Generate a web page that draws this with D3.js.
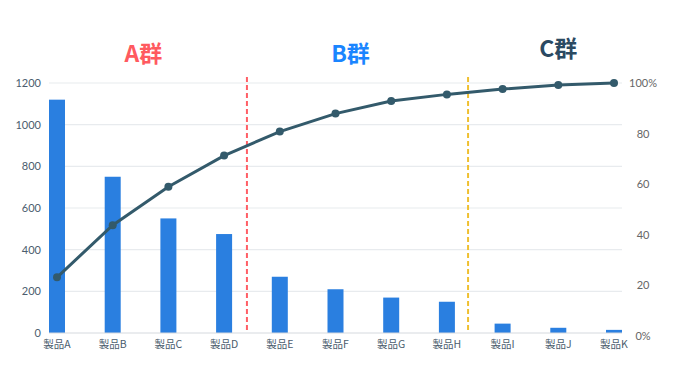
<!DOCTYPE html>
<html><head><meta charset="utf-8">
<script src="https://cdn.jsdelivr.net/npm/d3@7"></script>
<style>body{margin:0;background:#fff}svg{display:block}</style>
</head><body>
<svg id="c" width="680" height="390"></svg>
<script>
const categories = ["製品A","製品B","製品C","製品D","製品E","製品F","製品G","製品H","製品I","製品J","製品K"];
const sales = [1120, 750, 550, 475, 270, 210, 170, 150, 45, 25, 15];
const cumulative = [23.2, 43.8, 59.0, 71.3, 80.8, 87.9, 92.9, 95.5, 97.6, 99.2, 100];
const leftTicks = [0, 200, 400, 600, 800, 1000, 1200];
const rightTicks = [0, 20, 40, 60, 80, 100];
const groups = ["A群", "B群", "C群"];
const groupPos = [1.55, 5.27, 9.0];      // in category-index units
const dividers = [3.41, 7.38];           // in category-index units

const svg = d3.select("#c");
const L = 49, R = 622, bw = 16;
const x = d3.scalePoint().domain(categories).range([L + bw/2, R - bw/2]);
const step = x.step();
const xi = i => x(categories[0]) + i * step;
const y = d3.scaleLinear().domain([0, 1200]).range([333, 83]);
const y2 = d3.scaleLinear().domain([0, 100]).range([336, 83]);

// gridlines
svg.append("g").selectAll("line").data(leftTicks.filter(d => d > 0)).join("line")
  .attr("x1", L).attr("x2", R).attr("y1", d => y(d)).attr("y2", d => y(d))
  .attr("stroke", "#e8ebee").attr("stroke-width", 1.2);

// left axis
const la = svg.append("g").attr("transform", `translate(${L},0)`)
  .call(d3.axisLeft(y).tickValues(leftTicks).tickSize(0).tickPadding(8).tickFormat(d3.format("d")));
la.select(".domain").remove();
la.selectAll("text").attr("font-family", "Lato, sans-serif").attr("font-size", 11).attr("fill", "#4b5d6e");

// right axis
const ra = svg.append("g").attr("transform", `translate(643,0)`)
  .call(d3.axisRight(y2).tickValues(rightTicks).tickSize(0).tickPadding(0)
    .tickFormat(d => (d === 0 || d === 100) ? d + "%" : d));
ra.select(".domain").remove();
ra.selectAll("text").attr("text-anchor", "middle").attr("font-family", "Lato, sans-serif")
  .attr("font-size", 11).attr("fill", "#666");

// bars
svg.append("g").selectAll("rect").data(sales).join("rect")
  .attr("x", (d, i) => x(categories[i]) - bw/2).attr("width", bw)
  .attr("y", d => y(d)).attr("height", d => y(0) - y(d))
  .attr("fill", "#2a7fe0");

// baseline
svg.append("line").attr("x1", L).attr("x2", R).attr("y1", y(0)).attr("y2", y(0))
  .attr("stroke", "#d5d9de").attr("stroke-width", 1);

// category labels
svg.append("g").selectAll("text").data(categories).join("text")
  .attr("x", d => x(d)).attr("y", 348).attr("text-anchor", "middle")
  .attr("font-family", "'Noto Sans CJK JP', sans-serif").attr("font-size", 10.5)
  .attr("fill", "#4b5d6e").text(d => d);

// dividers
const divColors = ["#ff5f66", "#f0c030"];
svg.append("g").selectAll("line").data(dividers).join("line")
  .attr("x1", d => xi(d)).attr("x2", d => xi(d)).attr("y1", 77).attr("y2", y(0))
  .attr("stroke", (d, i) => divColors[i]).attr("stroke-width", 2).attr("stroke-dasharray", "5,3");

// group labels
const groupColors = ["#ff5a5f", "#1a85ff", "#2b4a62"];
const groupY = [62, 62, 57];
svg.append("g").selectAll("text").data(groups).join("text")
  .attr("x", (d, i) => xi(groupPos[i])).attr("y", (d, i) => groupY[i])
  .attr("text-anchor", "middle").attr("font-family", "'Noto Sans CJK JP', sans-serif")
  .attr("font-weight", "bold").attr("font-size", 23)
  .attr("fill", (d, i) => groupColors[i]).text(d => d);

// cumulative line
const line = d3.line().x((d, i) => x(categories[i])).y(d => y2(d));
svg.append("path").datum(cumulative).attr("d", line).attr("fill", "none")
  .attr("stroke", "#335a6b").attr("stroke-width", 3);
svg.append("g").selectAll("circle").data(cumulative).join("circle")
  .attr("cx", (d, i) => x(categories[i])).attr("cy", d => y2(d)).attr("r", 4)
  .attr("fill", "#335a6b");
</script>
</body></html>
